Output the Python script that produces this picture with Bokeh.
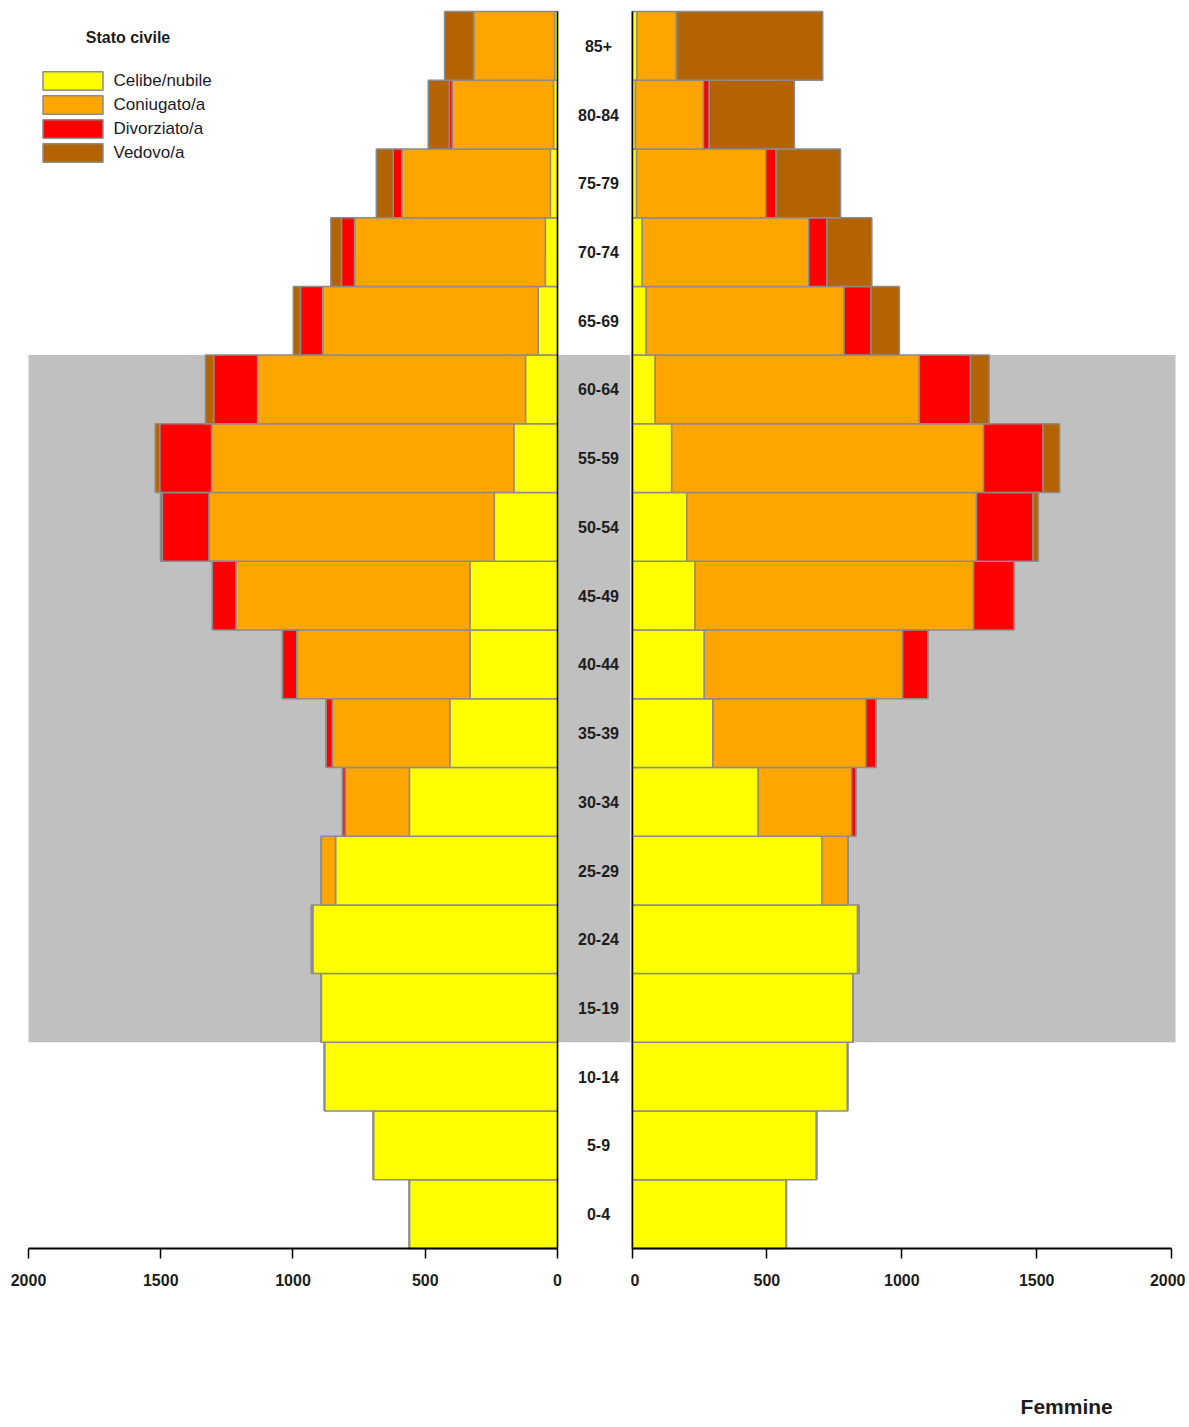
from bokeh.plotting import figure
from bokeh.layouts import row
from bokeh.models import (Range1d, LinearAxis, FixedTicker, BoxAnnotation,
                          ColumnDataSource, Label)
from bokeh.core.properties import value
from bokeh.embed import file_html
from bokeh.resources import INLINE

# ---------------- data (index 0 = "0-4" ... 17 = "85+") ----------------
ages = ["0-4", "5-9", "10-14", "15-19", "20-24", "25-29", "30-34", "35-39",
        "40-44", "45-49", "50-54", "55-59", "60-64", "65-69", "70-74",
        "75-79", "80-84", "85+"]

stati = ["Celibe/nubile", "Coniugato/a", "Divorziato/a", "Vedovo/a"]

# Maschi
celibi_m     = [560, 696, 881, 893, 925, 839, 560, 407, 331, 331, 239, 165, 121, 73, 46, 27, 15, 11]
coniugati_m  = [0, 0, 0, 0, 5, 54, 242, 444, 655, 885, 1079, 1143, 1013, 815, 721, 561, 383, 306]
divorziati_m = [0, 0, 0, 0, 0, 0, 11, 24, 54, 89, 176, 196, 166, 84, 50, 33, 11, 0]
vedovi_m     = [0, 0, 0, 0, 0, 0, 0, 0, 0, 0, 7, 17, 31, 27, 40, 64, 80, 110]

# Femmine
nubili_f     = [572, 684, 799, 819, 836, 704, 468, 300, 268, 234, 203, 147, 86, 53, 38, 17, 13, 19]
coniugate_f  = [0, 0, 0, 0, 5, 97, 346, 567, 735, 1032, 1074, 1156, 979, 733, 617, 479, 252, 146]
divorziate_f = [0, 0, 0, 0, 0, 0, 16, 38, 94, 151, 210, 221, 190, 100, 67, 38, 21, 0]
vedove_f     = [0, 0, 0, 0, 0, 0, 0, 0, 0, 0, 19, 61, 69, 105, 167, 239, 316, 542]

axis_ticks = [0, 500, 1000, 1500, 2000]

# ---------------- style ----------------
colors = ["#FFFF00", "#FFA500", "#FF0000", "#B36303"]
BAR_LINE = "#8c8c8c"
BAND = "#C0C0C0"
FONT = "Liberation Sans"
TXT = "#1c1c1c"

idx = list(range(len(ages)))
keys = ["celibe", "coniugato", "divorziato", "vedovo"]

src_m = ColumnDataSource(dict(idx=idx, celibe=celibi_m, coniugato=coniugati_m,
                              divorziato=divorziati_m, vedovo=vedovi_m))
src_f = ColumnDataSource(dict(idx=idx, celibe=nubili_f, coniugato=coniugate_f,
                              divorziato=divorziate_f, vedovo=vedove_f))

H = 1425
Y_LO, Y_HI = -3.0757, 17.66
common = dict(height=H, output_backend="svg", toolbar_location=None,
              x_axis_location=None, y_axis_location=None,
              min_border_left=0, min_border_right=0, min_border_top=0,
              min_border_bottom=0, outline_line_color=None,
              background_fill_color="white", border_fill_color="white")

# ---------------- left: Maschi ----------------
left = figure(width=630, x_range=Range1d(2105.86, -276.0),
              y_range=Range1d(Y_LO, Y_HI), **common)
# ---------------- right: Femmine ----------------
right = figure(width=555, x_range=Range1d(-5.56, 2051.5),
               y_range=Range1d(Y_LO, Y_HI), **common)

for p in (left, right):
    p.grid.visible = False

left.add_layout(BoxAnnotation(left=2000, right=-276.0, bottom=2.5, top=12.5,
                              fill_color=BAND, fill_alpha=1, line_color=None,
                              level="underlay"))
right.add_layout(BoxAnnotation(left=-5.56, right=2014.5, bottom=2.5, top=12.5,
                               fill_color=BAND, fill_alpha=1, line_color=None,
                               level="underlay"))

left.hbar_stack(keys, y="idx", height=1, color=colors, line_color=BAR_LINE,
                line_width=1.5, source=src_m, legend_label=stati)
right.hbar_stack(keys, y="idx", height=1, color=colors, line_color=BAR_LINE,
                 line_width=1.5, source=src_f)

for p in (left, right):
    # vertical zero line
    yax = LinearAxis(fixed_location=0, bounds=(-0.5, 17.5),
                     ticker=FixedTicker(ticks=[]), axis_line_color="black",
                     axis_line_width=1.5, major_tick_line_color=None,
                     minor_tick_line_color=None,
                     major_label_text_font_size="0px")
    p.add_layout(yax, "left")
    # value axis
    ax = LinearAxis(fixed_location=-0.5, ticker=FixedTicker(ticks=axis_ticks),
                    bounds=(0, 2000),
                    axis_line_color="black", axis_line_width=2,
                    major_tick_out=10, major_tick_in=0,
                    major_tick_line_color="black", major_tick_line_width=1.5,
                    minor_tick_line_color=None, major_label_standoff=16,
                    major_label_text_font=FONT,
                    major_label_text_font_style="bold",
                    major_label_text_font_size="16px",
                    major_label_text_color=TXT)
    p.add_layout(ax, "below")

# age labels (centred between the two halves)
lab_src = ColumnDataSource(dict(x=[-155.0] * len(ages), y=idx, t=ages))
left.text(x="x", y="y", text="t", source=lab_src, text_align="center",
          text_baseline="alphabetic", y_offset=0,
          text_font=value(FONT), text_font_style="bold",
          text_font_size="16px", text_color=TXT)

# legend
lg = left.legend[0]
lg.location = (34.5, 1261)
lg.margin = 0
lg.padding = 0
lg.spacing = 1
lg.glyph_width = 75
lg.glyph_height = 23
lg.label_height = 18
lg.label_standoff = 4
lg.label_text_font = FONT
lg.label_text_font_size = "17px"
lg.label_text_color = "#1a1a2a"
lg.border_line_color = None
lg.background_fill_alpha = 0

left.add_layout(Label(x=1623.8, y=17.125, text="Stato civile", text_align="center",
                      text_baseline="alphabetic", text_font=FONT,
                      text_font_style="bold", text_font_size="16px",
                      text_color=TXT))

right.add_layout(Label(x=1611.0, y=-2.80, text="Femmine", text_align="center",
                       text_baseline="alphabetic", text_font=FONT,
                       text_font_style="bold", text_font_size="21px",
                       text_color=TXT))

layout = row(left, right, spacing=0)
open("out.html", "w").write(file_html(layout, INLINE))
